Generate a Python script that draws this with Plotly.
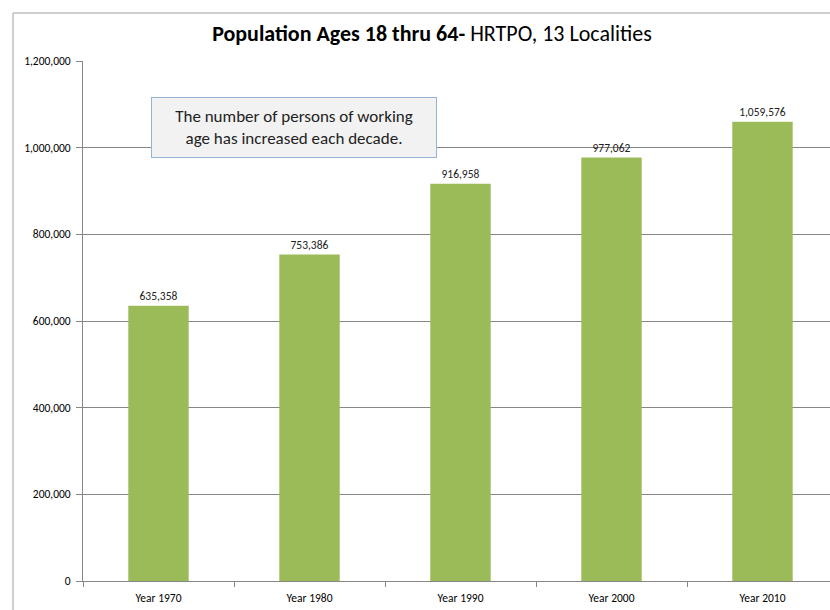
import plotly.graph_objects as go

categories = ["Year 1970", "Year 1980", "Year 1990", "Year 2000", "Year 2010"]
values = [635358, 753386, 916958, 977062, 1059576]
y_ticks = [0, 200000, 400000, 600000, 800000, 1000000, 1200000]
y_tick_labels = ["0", "200,000", "400,000", "600,000", "800,000", "1,000,000", "1,200,000"]

FONT = "Carlito, Calibri, Lato, sans-serif"

W, H = 830, 610
L, T, PW, PH = 83, 61, 747, 520
CAT_PX = 151  # pixels per category in the reference

fig = go.Figure()
fig.add_trace(go.Bar(
    x=categories, y=values,
    marker=dict(color="#9bbb59", line=dict(width=0)),
    width=0.4,
    text=[f"{v:,}" for v in values],
    textposition="outside",
    textfont=dict(family=FONT, size=11.5, color="#222"),
    cliponaxis=False,
))

fig.update_layout(
    width=W, height=H,
    margin=dict(l=L, r=W - L - PW, t=T, b=H - T - PH),
    paper_bgcolor="white", plot_bgcolor="white",
    showlegend=False,
    title=dict(
        text="<b>Population Ages 18 thru 64-</b> HRTPO, 13 Localities",
        x=432 / W, xanchor="center", y=1 - 33 / H, yanchor="middle",
        font=dict(family=FONT, size=22, color="#000"),
    ),
    xaxis=dict(
        type="category", range=[-0.5, -0.5 + PW / CAT_PX],
        showline=True, linecolor="#868686", linewidth=1,
        ticks="outside", ticklen=5, tickcolor="#868686", tickson="boundaries",
        ticklabelstandoff=6,
        tickfont=dict(family=FONT, size=11.5, color="#000"),
        showgrid=False, fixedrange=True,
    ),
    yaxis=dict(
        range=[0, 1200000],
        tickmode="array", tickvals=y_ticks, ticktext=y_tick_labels,
        showline=True, linecolor="#868686", linewidth=1,
        ticks="outside", ticklen=6, tickcolor="#868686",
        ticklabelstandoff=3,
        showgrid=True, gridcolor="#868686", gridwidth=1,
        tickfont=dict(family=FONT, size=11.5, color="#000"),
        zeroline=False,
    ),
    bargap=0.6,
)

# outer chart border (top and left edges visible in the reference)
bx0 = (13 - L) / PW
by1 = 1 + (T - 13) / PH
fig.add_shape(type="line", xref="paper", yref="paper",
              x0=bx0, x1=1.05, y0=by1, y1=by1,
              line=dict(color="#bfbfbf", width=1.5), layer="below")
fig.add_shape(type="line", xref="paper", yref="paper",
              x0=bx0, x1=bx0, y0=-0.2, y1=by1,
              line=dict(color="#bfbfbf", width=1.5), layer="below")

fig.add_annotation(
    xref="paper", yref="paper",
    x=(294 - L) / PW, y=(T + PH - 127.5) / PH,
    xanchor="center", yanchor="middle",
    text="The number of persons of working<br>age has increased each decade.",
    showarrow=False, align="center",
    font=dict(family=FONT, size=17, color="#222"),
    bgcolor="#f2f2f2", bordercolor="#95b3d7", borderwidth=1, borderpad=2,
    width=280, height=55,
)

fig.write_html(
    "out.html",
    config={"displayModeBar": False},
    post_script="document.body.style.margin='0';document.body.style.overflow='hidden';",
)
